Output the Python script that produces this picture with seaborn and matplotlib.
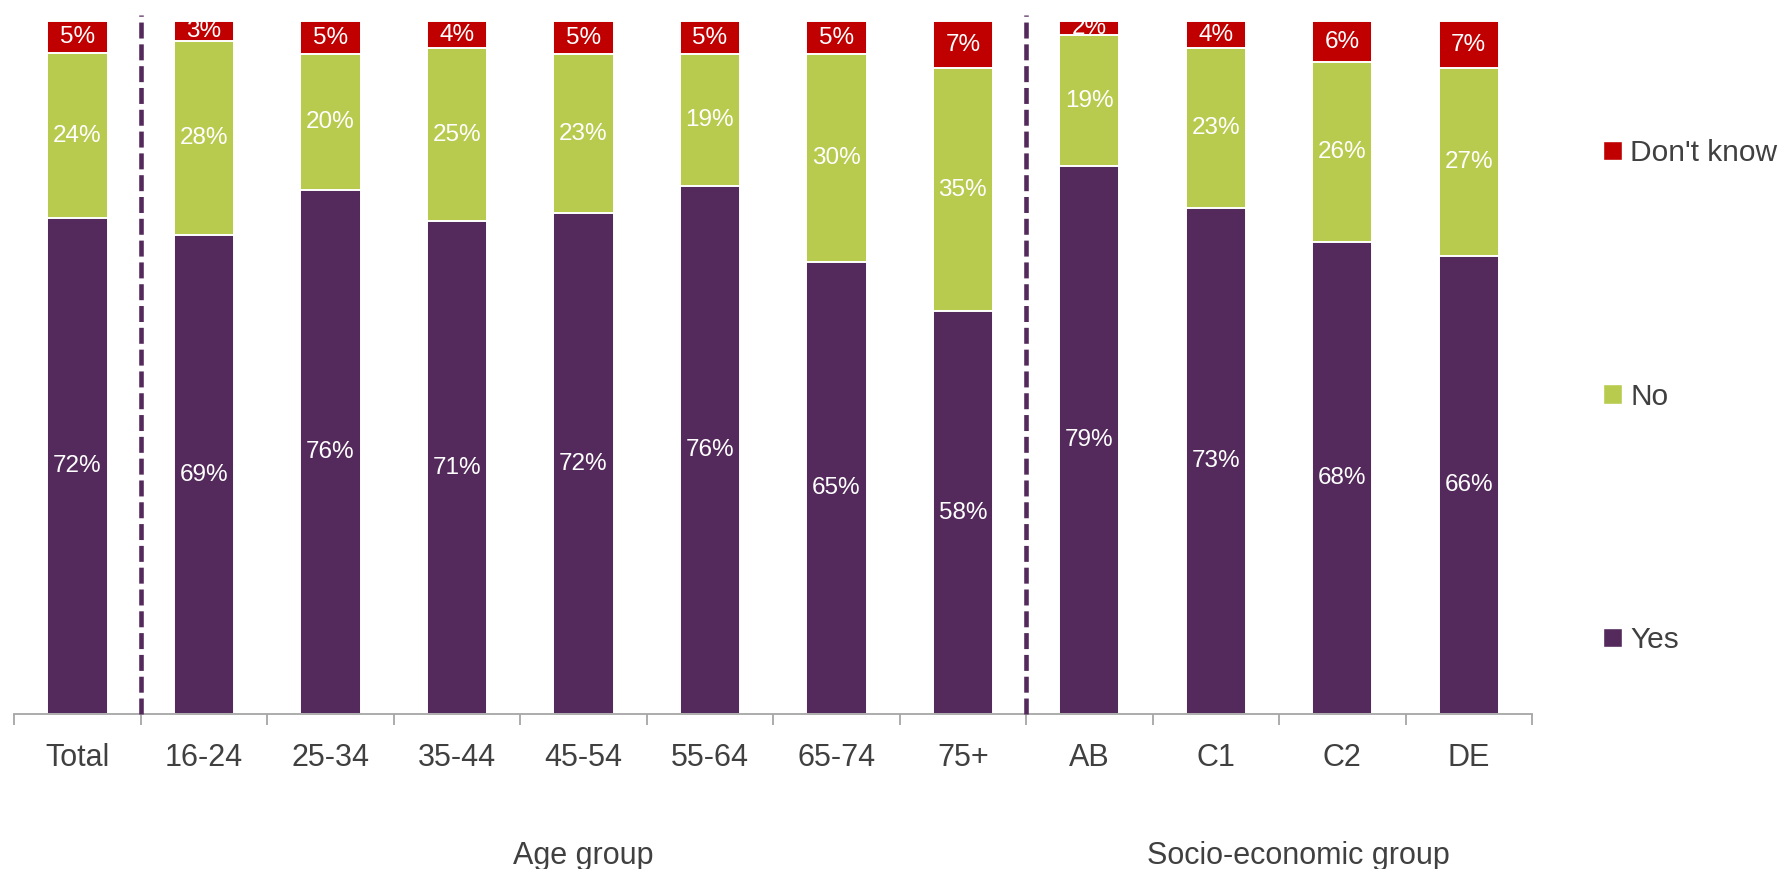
import matplotlib
matplotlib.use("Agg")
import matplotlib.pyplot as plt
import matplotlib.transforms as mtransforms
from matplotlib.patches import Patch
import seaborn as sns
import pandas as pd
import numpy as np

# ---- data ----
categories = ["Total", "16-24", "25-34", "35-44", "45-54", "55-64", "65-74", "75+",
              "AB", "C1", "C2", "DE"]
yes_vals = [71.6, 69.2, 75.6, 71.2, 72.3, 76.2, 65.2, 58.2, 79.1, 73.1, 68.2, 66.2]
no_vals = [23.8, 28.0, 19.7, 24.9, 23.0, 19.1, 30.1, 35.0, 18.9, 23.0, 25.9, 27.0]
dk_vals = [4.6, 2.8, 4.7, 3.9, 4.7, 4.7, 4.7, 6.8, 2.0, 3.9, 5.9, 6.8]
series_names = ["Yes", "No", "Don't know"]
group_names = ["Age group", "Socio-economic group"]

# ---- style ----
C_YES = "#54295B"
C_NO = "#B8CB4E"
C_DK = "#C00000"
TXT = "#404040"

sns.set_theme(style="white")
plt.rcParams["font.family"] = ["Liberation Sans", "DejaVu Sans"]
plt.rcParams["lines.scale_dashes"] = False

W, H, DPI = 1779, 869, 100
fig = plt.figure(figsize=(W / DPI, H / DPI), dpi=DPI)
ax_left, ax_right, ax_top, ax_bot = 14.2, 1532, 21.3, 714.3
ax = fig.add_axes([ax_left / W, (H - ax_bot) / H, (ax_right - ax_left) / W, (ax_bot - ax_top) / H])

df = pd.DataFrame({"cat": categories, "yes": yes_vals, "no": no_vals, "dk": dk_vals})
df["cum_no"] = df["yes"] + df["no"]
df["cum_dk"] = df["cum_no"] + df["dk"]

common = dict(x="cat", order=categories, width=0.477, saturation=1,
              edgecolor="white", linewidth=1.4, ax=ax, errorbar=None)
sns.barplot(data=df, y="cum_dk", color=C_DK, **common)
sns.barplot(data=df, y="cum_no", color=C_NO, **common)
sns.barplot(data=df, y="yes", color=C_YES, **common)

ax.set_xlim(-0.5, len(categories) - 0.5)
ax.set_ylim(0, 100)
ax.set_xlabel("")
ax.set_ylabel("")
ax.set_yticks([])

# value labels
for i, row in df.iterrows():
    for bottom, val in [(0, row["yes"]), (row["yes"], row["no"]), (row["cum_no"], row["dk"])]:
        ax.text(i, bottom + val / 2, f"{val:.0f}%", ha="center", va="center",
                color="white", fontsize=17.5, clip_on=True)

# spines / ticks
for s in ["top", "right", "left"]:
    ax.spines[s].set_visible(False)
ax.spines["bottom"].set_color("#A6A6A6")
ax.spines["bottom"].set_linewidth(1.3)
ax.set_xticks(range(len(categories)))
ax.set_xticklabels(categories, fontsize=22, color=TXT)
ax.tick_params(axis="x", which="major", length=0, pad=20.5)
ax.set_xticks(np.arange(-0.5, len(categories), 1.0), minor=True)
ax.tick_params(axis="x", which="minor", length=8, width=1.3, color="#A6A6A6", direction="out")
ax.tick_params(axis="x", which="both", bottom=True)

# dashed separators
for xb in [0.5, 7.5]:
    ax.axvline(xb, ymin=0, ymax=1.009, color=C_YES, lw=3.3, dashes=(11.5, 4.2),
               clip_on=False, zorder=5)

# group labels
trans = mtransforms.blended_transform_factory(ax.transData, fig.transFigure)
group_x = [4.0, 9.65]
for gx, name in zip(group_x, group_names):
    ax.text(gx, (H - 864) / H, name, transform=trans, ha="center", va="baseline",
            fontsize=22, color=TXT, clip_on=False)

# legend
handles = [Patch(facecolor=C_DK), Patch(facecolor=C_NO), Patch(facecolor=C_YES)]
labels = [series_names[2], series_names[1], series_names[0]]
leg = fig.legend(handles, labels, loc="upper left",
                 bbox_to_anchor=(1603 / W, 1 - 139 / H), bbox_transform=fig.transFigure,
                 frameon=False, fontsize=21.5, labelcolor=TXT, labelspacing=7.22,
                 handlelength=0.62, handleheight=0.62, handletextpad=0.3,
                 borderpad=0, borderaxespad=0)

fig.savefig("out.png", dpi=DPI)
